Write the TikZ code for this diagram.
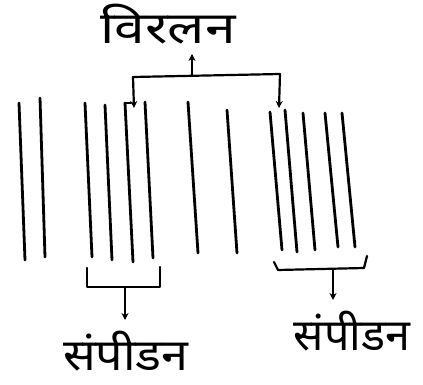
\documentclass[tikz,border=0pt]{standalone}
\usepackage{fontspec}
\newfontfamily\devfont[Script=Devanagari]{Noto Sans}
\usetikzlibrary{arrows.meta}
\begin{document}
\begin{tikzpicture}[x=1pt,y=-1pt,
  wave/.style={line width=2.8pt,line cap=round,black},
  brace/.style={line width=2.2pt,line cap=round,line join=round,black},
  arr/.style={brace,-{Stealth[length=7pt,width=7pt]}},
  lbl/.style={font=\devfont\fontsize{44}{48}\selectfont,inner sep=0pt,anchor=base}]
\useasboundingbox (0,0) rectangle (423,385);
% compression / rarefaction lines (top, bottom)
\foreach \i/\xa/\ya/\xb/\yb in {1/19/103/25/260, 2/40/98/45/257, 3/85/103/92/257, 4/105/105/112/260,
  5/125/103/133/262, 6/145/102/153/258, 7/188/102/198/253, 8/227/110/237/253,
  9/270/112/282/250, 10/285/110/297/252, 11/303/113/315/250, 12/325/113/338/247, 13/342/113/355/247}{
  \coordinate (t\i) at (\xa,\ya);
  \coordinate (b\i) at (\xb,\yb);
  \draw[wave] (t\i) -- (b\i);
}
% small hook on line 5
\coordinate (h5) at (131,103);
\draw[wave] (t5) -- (h5);
% top bracket (rarefaction)
\coordinate (tl) at (133,77);
\coordinate (tr) at (280,74);
\coordinate (tla) at (134,108);
\coordinate (tra) at (279,108);
\coordinate (tm) at (192,76);
\coordinate (tmt) at (192,54);
\node[lbl] (rare) at (168,44) {\scalebox{1.25}[1]{विरलन}};
\draw[brace] (tl) -- (tr);
\draw[arr] (tl) -- (tla);
\draw[arr] (tr) -- (tra);
\draw[arr] (tm) -- (tmt);
% bottom left bracket (compression)
\coordinate (l1) at (87,268);
\coordinate (l2) at (87,287);
\coordinate (l3) at (160,287);
\coordinate (l4) at (160,267);
\coordinate (lm) at (125,287);
\coordinate (lmt) at (125,320);
\node[lbl] (comp1) at (126,370) {\scalebox{1.1}[1]{संपीडन}};
\draw[brace] (l1) -- (l2) -- (l3) -- (l4);
\draw[arr] (lm) -- (lmt);
% bottom right bracket (compression)
\coordinate (r1) at (274,262);
\coordinate (r2) at (278,270);
\coordinate (r3) at (364,268);
\coordinate (r4) at (367,256);
\coordinate (rm) at (333,270);
\coordinate (rmt) at (333,300);
\node[lbl] (comp2) at (352,350) {\scalebox{1.02}[1]{संपीडन}};
\draw[brace] (r1) -- (r2) -- (r3) -- (r4);
\draw[arr] (rm) -- (rmt);
\end{tikzpicture}
\end{document}
